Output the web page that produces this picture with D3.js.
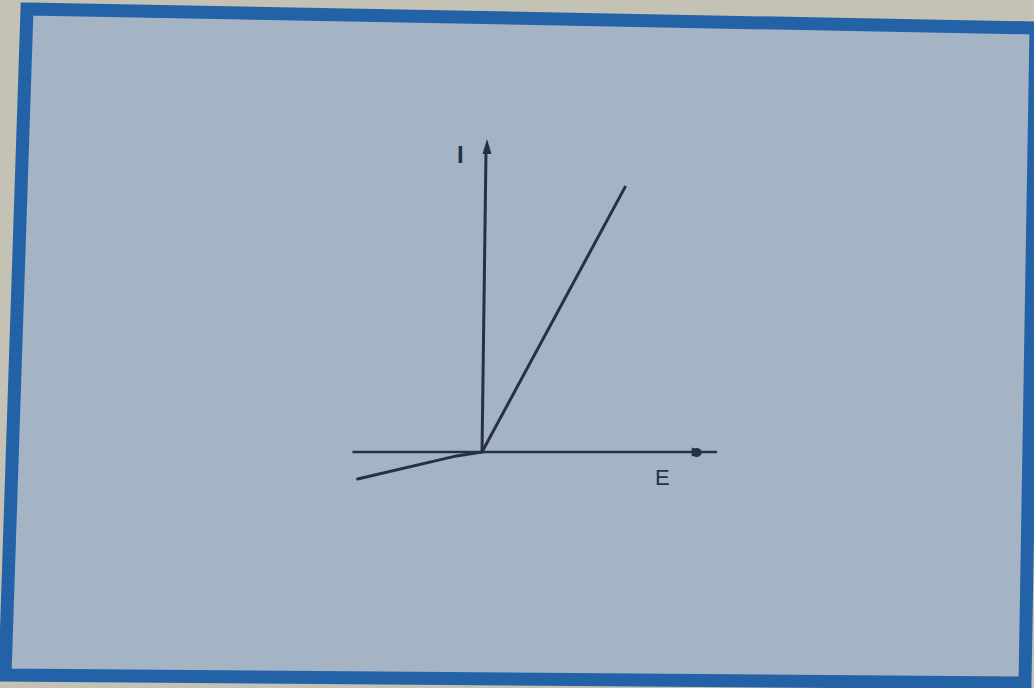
<!DOCTYPE html>
<html><head><meta charset="utf-8">
<script src="https://cdn.jsdelivr.net/npm/d3@7"></script>
<style>html,body{margin:0;padding:0;background:#c3c2b4;overflow:hidden}</style>
</head><body>
<svg id="c" width="1034" height="688"></svg>
<script>
// Data (diode-like I–E characteristic, arbitrary units)
const forwardE = [0, 1.126];
const forwardI = [0, 0.883];
const reverseE = [-0.98, -0.2, 0];
const reverseI = [-0.09, -0.013, 0];
const axisLabels = ["I", "E"];
const eDomain = [-1.02, 1.85];
const iDomain = [-0.1, 1.04];

const svg = d3.select("#c");

// slightly skewed frame (photo of a slide)
const frame = [[27,9],[1036,28],[1025,683],[5,675]];
svg.append("polygon")
  .attr("points", frame.map(p=>p.join(",")).join(" "))
  .attr("fill", "#a4b4c4")
  .attr("stroke", "#2462a8")
  .attr("stroke-width", 13)
  .attr("stroke-linejoin", "miter");

const x = d3.scaleLinear().domain([-1, 1.85]).range([355, 717]);
const y = d3.scaleLinear().domain([-0.1, 1.04]).range([482, 140]);

const ink = "#26304a";
const g = svg.append("g");

// axes
g.append("line")
  .attr("x1", x(eDomain[0])).attr("y1", y(0))
  .attr("x2", x(eDomain[1])).attr("y2", y(0))
  .attr("stroke", ink).attr("stroke-width", 2.6);
g.append("line")
  .attr("x1", x(0)).attr("y1", y(0))
  .attr("x2", x(0) + 4).attr("y2", y(iDomain[1]) + 10)
  .attr("stroke", ink).attr("stroke-width", 3);

// arrowheads
const tipX = x(0) + 5, tipY = y(iDomain[1]) - 1;
g.append("path")
  .attr("d", `M${tipX},${tipY} L${tipX-4.5},${tipY+15} L${tipX+4.5},${tipY+15} Z`)
  .attr("fill", ink);
const ah = x(1.69);
g.append("path")
  .attr("d", `M${ah+7},${y(0)} L${ah-5},${y(0)-4.5} L${ah-5},${y(0)+4.5} Z`)
  .attr("fill", ink);
g.append("ellipse").attr("cx", ah).attr("cy", y(0)+0.5).attr("rx", 5).attr("ry", 4.5).attr("fill", ink);

// characteristic lines
const line = d3.line().x(d=>x(d[0])).y(d=>y(d[1]));
g.append("path")
  .attr("d", line(forwardE.map((e,i)=>[e, forwardI[i]])))
  .attr("fill", "none").attr("stroke", ink).attr("stroke-width", 3).attr("stroke-linecap","round");
g.append("path")
  .attr("d", line(reverseE.map((e,i)=>[e, reverseI[i]])))
  .attr("fill", "none").attr("stroke", ink).attr("stroke-width", 3)
  .attr("stroke-linecap","round").attr("stroke-linejoin","round");

// labels
g.append("text").text(axisLabels[0])
  .attr("x", x(-0.17)).attr("y", y(0.962))
  .attr("text-anchor","middle")
  .attr("font-family","Liberation Sans, DejaVu Sans, sans-serif")
  .attr("font-size", 24).attr("font-weight", "bold").attr("fill", ink);
g.append("text").text(axisLabels[1])
  .attr("x", x(1.42)).attr("y", y(-0.11))
  .attr("text-anchor","middle")
  .attr("font-family","Liberation Sans, DejaVu Sans, sans-serif")
  .attr("font-size", 22).attr("fill", ink);
</script>
</body></html>
